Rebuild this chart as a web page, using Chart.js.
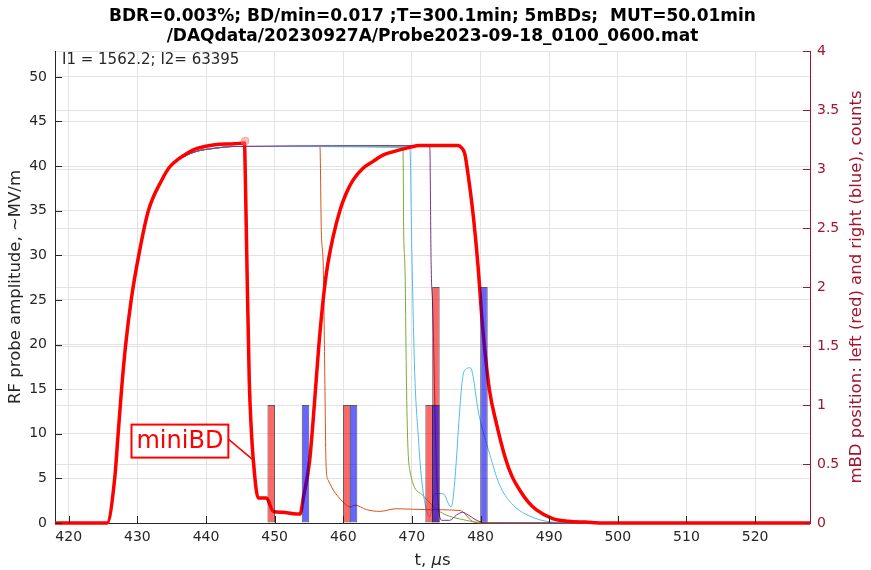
<!DOCTYPE html>
<html><head><meta charset="utf-8">
<script src="https://cdn.jsdelivr.net/npm/chart.js@4.4.1/dist/chart.umd.min.js"></script>
<style>html,body{margin:0;padding:0;background:#fff}#wrap{width:871px;height:570px}</style>
</head><body><div id="wrap"><canvas id="c" width="871" height="570"></canvas></div>
<script>
// ---------- data ----------
const titleLines = ['BDR=0.003%; BD/min=0.017 ;T=300.1min; 5mBDs;  MUT=50.01min',
                    '/DAQdata/20230927A/Probe2023-09-18_0100_0600.mat'];
const infoText = 'I1 = 1562.2; I2= 63395';
const xTicks = [420, 430, 440, 450, 460, 470, 480, 490, 500, 510, 520];
const yTicks = [0, 5, 10, 15, 20, 25, 30, 35, 40, 45, 50];
const y2Ticks = [0, 0.5, 1, 1.5, 2, 2.5, 3, 3.5, 4];

// common rise of the RF pulse (t in us, amplitude in MV/m)
const riseT = [418, 425.6, 426.7, 427.2, 427.7, 428.3, 429.1, 430.2, 431.6, 433.6, 434.7, 436.0, 438.4, 441.3, 444.2];
const riseV = [0, 0, 5.0, 10.0, 15.0, 20.0, 25.0, 30.0, 35.0, 38.4, 39.8, 40.7, 41.6, 42.0, 42.2];

// thin traces after the rise
const orangeT = [456.6, 456.8, 457.1, 457.3, 457.5, 457.8, 458.8, 460.5, 461.0, 461.7, 463.4, 465.3, 467.7, 472.0, 477.0, 478.8, 480.0, 528];
const orangeV = [42.2, 32.8, 28.3, 17.0, 6.3, 4.8, 3.4, 2.0, 1.8, 2.0, 1.5, 1.3, 1.6, 1.5, 1.4, 0.2, 0, 0];
const greenT = [468.7, 468.8, 469.0, 469.2, 469.4, 469.7, 471.6, 474.0, 477.9, 480.3, 528];
const greenV = [42.1, 32.8, 28.3, 16.0, 8.9, 5.9, 3.1, 1.3, 0.3, 0.05, 0];
const cyanT = [469.7, 470.0, 470.4, 470.9, 471.4, 472.1, 472.6, 473.3, 474.5, 475.7, 477.6, 478.5, 479.8, 481.3, 482.7, 484.5, 487.1, 490.5, 495.0, 528];
const cyanV = [42.2, 30.0, 17.0, 10.0, 5.0, 1.5, 0.7, 3.3, 3.3, 1.8, 17.0, 17.4, 12.0, 7.8, 4.4, 2.2, 0.8, 0.1, 0, 0];
const purpleT = [472.6, 472.8, 473.05, 473.5, 473.9, 474.4, 475.5, 476.5, 477.4, 478.2, 479.2, 480.3, 481.0, 528];
const purpleV = [42.3, 29.0, 23.8, 8.0, 1.5, 0.3, 0.3, 0.9, 1.2, 0.9, 0.4, 0.05, 0, 0];
const blackT = [476.6, 477.6, 478.1, 478.9, 479.6, 480.3, 481.3, 482.3, 483.7, 485.7, 488.1, 490.5, 495.3, 498.0, 528];
const blackV = [42.2, 41.3, 39.4, 34.6, 29.0, 22.0, 14.9, 11.2, 7.0, 3.7, 1.5, 0.5, 0.1, 0, 0];

// thick red trace with the mini breakdown
const redT = [418, 425.6, 426.7, 427.2, 427.7, 428.3, 429.1, 430.2, 431.6, 433.6, 434.7, 436.0, 437.2, 438.4, 439.8, 441.3, 444.2, 445.6,
              445.75, 445.9, 446.3, 446.6, 446.9, 447.6, 448.8, 449.8, 451.0, 453.7, 454.2, 455.1, 455.8, 456.4,
              457.0, 457.6, 458.5, 459.5, 460.4, 461.4, 462.8, 464.3, 465.7, 467.2, 469.7, 471.1, 476.7, 477.3, 477.7, 478.1, 478.9, 479.6, 480.3,
              481.3, 482.3, 483.7, 484.6, 485.7, 486.9, 488.1, 490.5, 492.8, 495.3, 498.0, 528];
const redV = [0, 0, 5.0, 10.0, 15.0, 20.0, 25.0, 30.0, 35.0, 38.5, 39.9, 40.8, 41.4, 41.9, 42.2, 42.4, 42.5, 42.6,
              38.0, 31.7, 16.0, 10.5, 7.0, 2.8, 2.8, 1.3, 1.2, 1.0, 2.9, 7.0, 13.4, 19.5,
              24.5, 28.3, 32.0, 35.0, 36.9, 38.4, 39.7, 40.5, 41.2, 41.6, 42.1, 42.3, 42.3, 42.0, 41.4, 39.5, 34.7, 29.1, 22.0,
              14.9, 11.2, 7.05, 5.2, 3.7, 2.4, 1.5, 0.5, 0.2, 0.1, 0, 0];
const markerT = [445.7];
const markerV = [42.8];

// mBD position histograms (counts, right axis)
const leftBdT = [449.5, 460.5, 472.5, 473.5];
const leftBdN = [1, 1, 1, 2];
const rightBdT = [454.5, 461.5, 473.5, 480.5];
const rightBdN = [1, 1, 1, 2];

const annotT = 446.9, annotV = 7.05, annotLabel = 'miniBD';
const yLeftTitle = 'RF probe amplitude, ~MV/m';
const yRightTitle = 'mBD position: left (red) and right (blue), counts';

// ---------- build ----------
const FONT = 'DejaVu Sans';
const AX = '#262626';
const CRIMSON = '#A2142F';
const zip = (t, v) => t.map((x, i) => ({x: x, y: v[i]}));
const withRise = (t, v) => zip(riseT.concat(t), riseV.concat(v));

function thin(data, color, order) {
  return {type: 'line', data: data, borderColor: color, borderWidth: 1, pointRadius: 0,
          cubicInterpolationMode: 'monotone', yAxisID: 'y', order: order, clip: false};
}
const barCommon = {type: 'bar', yAxisID: 'y2', borderColor: 'rgba(0,0,0,0.6)', borderWidth: 1,
   borderSkipped: false, grouped: false, barPercentage: 1.1, categoryPercentage: 1};

const datasets = [
  Object.assign({}, barCommon, {data: zip(rightBdT, rightBdN), order: 0, backgroundColor: 'rgba(0,0,255,0.6)'}),
  Object.assign({}, barCommon, {data: zip(leftBdT, leftBdN), order: 1, backgroundColor: 'rgba(255,0,0,0.6)'}),
  {type: 'line', data: zip(markerT, markerV), yAxisID: 'y', order: 2, showLine: false,
   pointRadius: 4, pointBackgroundColor: 'rgba(255,110,110,0.45)', pointBorderColor: 'rgba(255,110,110,0.45)', clip: false},
  {type: 'line', data: zip(redT, redV), borderColor: '#FF0000', borderWidth: 3.5, pointRadius: 0,
   cubicInterpolationMode: 'monotone', yAxisID: 'y', order: 3, clip: false, borderJoinStyle: 'round'},
  thin(withRise(purpleT, purpleV), '#7E2F8E', 4),
  thin(withRise(cyanT, cyanV), '#4DBEEE', 5),
  thin(withRise(greenT, greenV), '#77AC30', 6),
  thin(withRise(orangeT, orangeV), '#D95319', 7),
  thin(withRise(blackT, blackV), '#1a1a1a', 8),
];

const layoutPlugin = {
  id: 'deco',
  afterDatasetsDraw(chart) {
    const ctx = chart.ctx, a = chart.chartArea;
    const xs = chart.scales.x, ys = chart.scales.y, y2 = chart.scales.y2;
    ctx.save();
    const TL = 7;
    ctx.lineWidth = 1;
    ctx.strokeStyle = AX;
    ctx.beginPath();
    xTicks.forEach(v => { const px = Math.round(xs.getPixelForValue(v)) + 0.5; ctx.moveTo(px, a.bottom); ctx.lineTo(px, a.bottom - TL); });
    yTicks.forEach(v => { const py = Math.round(ys.getPixelForValue(v)) + 0.5; ctx.moveTo(a.left, py); ctx.lineTo(a.left + TL, py); });
    ctx.stroke();
    ctx.strokeStyle = CRIMSON;
    ctx.beginPath();
    y2Ticks.forEach(v => { const py = Math.round(y2.getPixelForValue(v)) + 0.5; ctx.moveTo(a.right, py); ctx.lineTo(a.right - TL, py); });
    ctx.stroke();

    // annotation box + leader
    const ax = xs.getPixelForValue(annotT), ay = ys.getPixelForValue(annotV);
    ctx.font = '24px "' + FONT + '"';
    const tw = ctx.measureText(annotLabel).width;
    const bw = tw + 10, bh = 33;
    const bx = ax - 25 - bw, by = ay - 19 - bh / 2;
    ctx.strokeStyle = '#FF0000';
    ctx.lineWidth = 1.5;
    ctx.beginPath(); ctx.moveTo(bx + bw, ay - 21); ctx.lineTo(ax, ay); ctx.stroke();
    ctx.fillStyle = '#fff';
    ctx.fillRect(bx, by, bw, bh);
    ctx.lineWidth = 2;
    ctx.strokeRect(bx, by, bw, bh);
    ctx.fillStyle = '#FF0000';
    ctx.textAlign = 'center'; ctx.textBaseline = 'middle';
    ctx.fillText(annotLabel, bx + bw / 2, by + bh / 2 + 1);
    ctx.restore();
  },
  afterDraw(chart) {
    const ctx = chart.ctx, a = chart.chartArea;
    ctx.save();
    ctx.fillStyle = '#000';
    ctx.font = 'bold 17px "' + FONT + '"';
    ctx.textAlign = 'center'; ctx.textBaseline = 'middle';
    const cx = (a.left + a.right) / 2;
    ctx.fillText(titleLines[0], cx, 17);
    ctx.fillText(titleLines[1], cx, 37);
    ctx.font = '15px "' + FONT + '"';
    ctx.textAlign = 'left'; ctx.fillStyle = AX;
    ctx.fillText(infoText, a.left + 7, a.top + 9);
    const LF = '16.5px "' + FONT + '"';
    ctx.font = LF;
    ctx.textAlign = 'center';
    ctx.save();
    ctx.translate(16, (a.top + a.bottom) / 2); ctx.rotate(-Math.PI / 2);
    ctx.fillStyle = AX; ctx.fillText(yLeftTitle, 0, 0);
    ctx.restore();
    ctx.save();
    ctx.translate(857, (a.top + a.bottom) / 2); ctx.rotate(-Math.PI / 2);
    ctx.fillStyle = CRIMSON; ctx.fillText(yRightTitle, 0, 0);
    ctx.restore();
    const p1 = 't, ', p2 = '\u03BC', p3 = 's';
    const w1 = ctx.measureText(p1).width, w3 = ctx.measureText(p3).width;
    ctx.font = 'italic ' + LF;
    const w2 = ctx.measureText(p2).width;
    const x0 = cx - (w1 + w2 + w3) / 2;
    const ty = 561;
    ctx.textAlign = 'left'; ctx.fillStyle = AX;
    ctx.font = LF; ctx.fillText(p1, x0, ty);
    ctx.font = 'italic ' + LF; ctx.fillText(p2, x0 + w1, ty);
    ctx.font = LF; ctx.fillText(p3, x0 + w1 + w2, ty);
    ctx.restore();
  }
};

const gridColor = '#e3e3e3';
new Chart(document.getElementById('c'), {
  type: 'line',
  data: {datasets: datasets},
  options: {
    responsive: false, animation: false, devicePixelRatio: 1,
    datasets: {bar: {barPercentage: 1.1, categoryPercentage: 1, grouped: false}},
    layout: {padding: {top: 51, left: 0, right: 0, bottom: 0}},
    plugins: {legend: {display: false}, title: {display: false}, tooltip: {enabled: false}},
    scales: {
      x: {type: 'linear', position: 'bottom', min: 418, max: 528, offset: false,
          afterBuildTicks: s => { s.ticks = xTicks.map(v => ({value: v})); },
          afterFit: s => { s.height = 47; },
          grid: {color: gridColor, drawTicks: false, offset: false},
          border: {display: true, color: AX, width: 1},
          ticks: {color: AX, padding: 6, font: {family: FONT, size: 14}, maxRotation: 0, autoSkip: false, callback: v => String(v)}},
      y: {type: 'linear', position: 'left', min: 0, max: 52.9,
          afterBuildTicks: s => { s.ticks = yTicks.map(v => ({value: v})); },
          afterFit: s => { s.width = 55; },
          grid: {color: gridColor, drawTicks: false},
          border: {display: true, color: AX, width: 1},
          ticks: {color: AX, padding: 8, font: {family: FONT, size: 14}, callback: v => String(v)}},
      y2: {type: 'linear', position: 'right', min: 0, max: 4,
          afterBuildTicks: s => { s.ticks = y2Ticks.map(v => ({value: v})); },
          afterFit: s => { s.width = 61; },
          grid: {color: gridColor, drawTicks: false},
          border: {display: true, color: CRIMSON, width: 1},
          ticks: {color: CRIMSON, padding: 7, font: {family: FONT, size: 14}, callback: v => String(v)}}
    }
  },
  plugins: [layoutPlugin]
});
</script>
</body></html>
